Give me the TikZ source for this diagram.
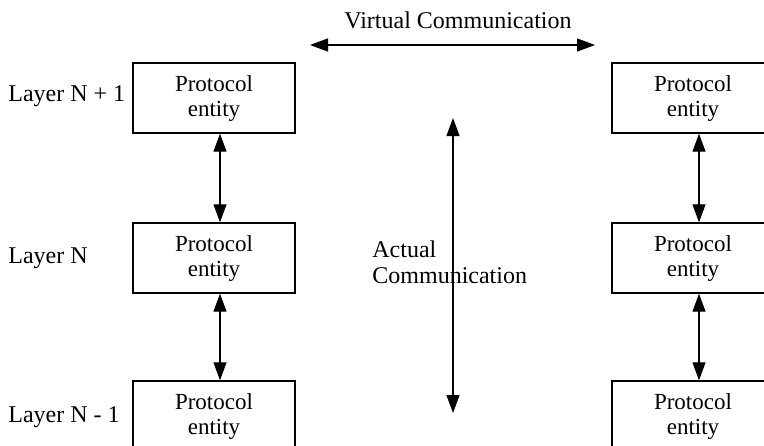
\documentclass[tikz,border=0pt]{standalone}
\usepackage{fontspec}
\setmainfont{Liberation Serif}
\usetikzlibrary{arrows.meta,positioning}

\tikzset{
  entity/.style={draw,line width=0.7pt,minimum width=81pt,minimum height=35pt,
    inner sep=0pt,align=center,font=\fontsize{11.5}{12.5}\selectfont},
  layer/.style={anchor=west,inner sep=0pt,font=\fontsize{12}{14}\selectfont},
  comm/.style={line width=0.6pt,
    {Triangle[length=9pt,width=6.5pt]}-{Triangle[length=9pt,width=6.5pt]}}
}

\begin{document}
\begin{tikzpicture}[x=0.5pt,y=-0.5pt]
\useasboundingbox (0,0) rectangle (764,445);
\clip (0,0) rectangle (764,445);
% protocol entities, left and right stack
\node[entity] (l1) at (214,98) {Protocol\\entity};
\node[entity] (l2) at (214,258) {Protocol\\entity};
\node[entity] (l3) at (214,416) {Protocol\\entity};
\node[entity] (r1) at (693,98) {Protocol\\entity};
\node[entity] (r2) at (693,258) {Protocol\\entity};
\node[entity] (r3) at (693,416) {Protocol\\entity};
% layer names
\node[layer] (n1) at (8,96) {Layer N + 1};
\node[layer] (n0) at (8,258) {Layer N};
\node[layer] (nm) at (8,417) {Layer N - 1};
% between layers
\draw[comm] ([xshift=3pt]l1.south) -- ([xshift=3pt]l2.north);
\draw[comm] ([xshift=3pt]l2.south) -- ([xshift=3pt]l3.north);
\draw[comm] ([xshift=3pt]r1.south) -- ([xshift=3pt]r2.north);
\draw[comm] ([xshift=3pt]r2.south) -- ([xshift=3pt]r3.north);
% virtual and actual communication
\coordinate (vl) at (310,45);
\coordinate (vr) at (595,45);
\coordinate (at) at (453,118);
\coordinate (ab) at (453,413);
\draw[comm] (vl) -- (vr);
\draw[comm] (at) -- (ab);
\node[layer,anchor=center] (virt) at (458,20) {Virtual Communication};
\node[layer,align=left,font=\fontsize{12}{13}\selectfont] (act) at (372,262) {Actual\\Communication};
\end{tikzpicture}
\end{document}
